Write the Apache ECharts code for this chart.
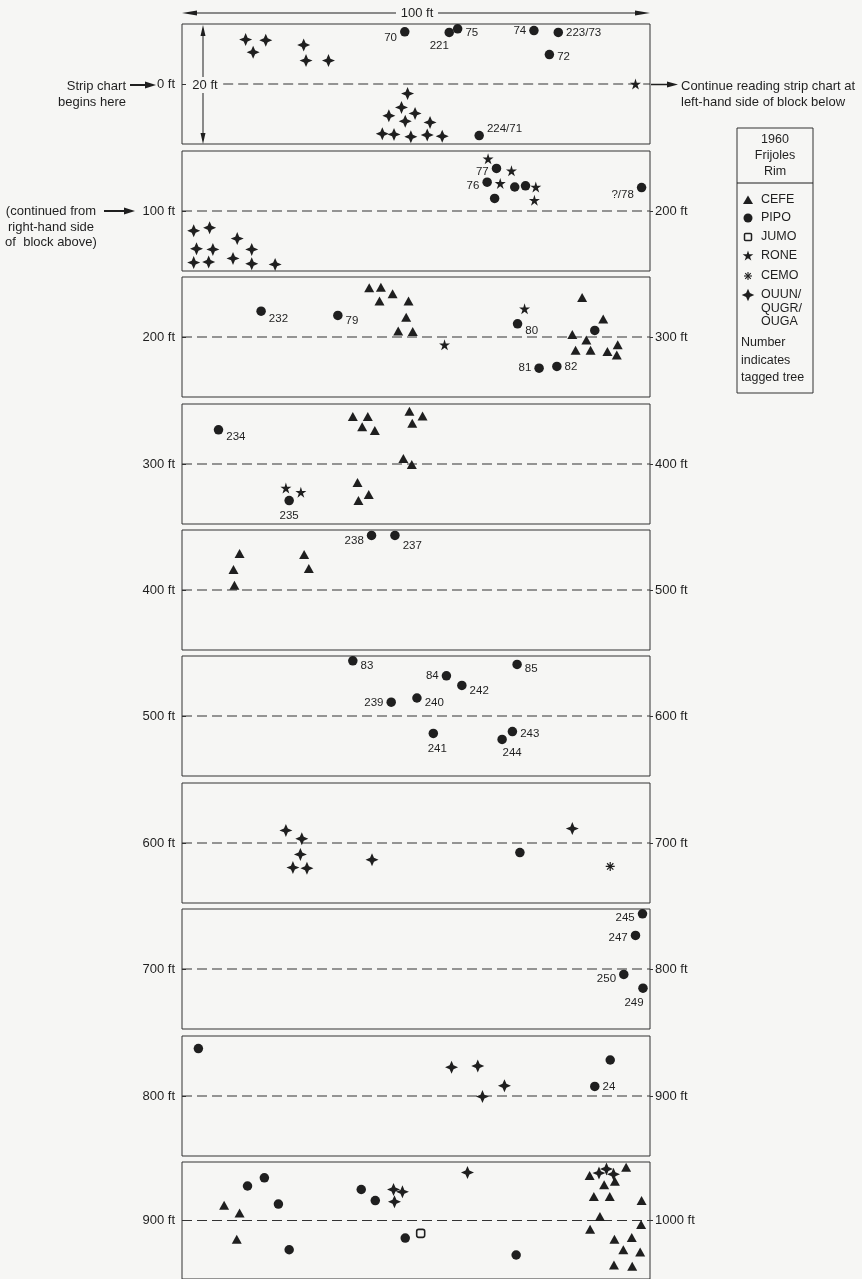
<!DOCTYPE html>
<html>
<head>
<meta charset="utf-8">
<title>1960 Frijoles Rim strip chart</title>
<script src="https://cdn.jsdelivr.net/npm/echarts@6/dist/echarts.min.js"></script>
<style>
  html, body { margin: 0; padding: 0; background: #f6f6f4; }
  #chart { width: 862px; height: 1279px; }
</style>
</head>
<body>
<div id="chart"></div>
<script>
// Strip chart: each block covers 100 ft along the strip (x) and a 20 ft wide
// belt (y = lateral offset from the centre line, -10..10 ft).
// Points are [distance along strip (ft), lateral offset (ft), tag number].

const blockStarts = [0, 100, 200, 300, 400, 500, 600, 700, 800, 900];
const leftTicks  = ['0 ft', '100 ft', '200 ft', '300 ft', '400 ft', '500 ft', '600 ft', '700 ft', '800 ft', '900 ft'];
const rightTicks = ['', '200 ft', '300 ft', '400 ft', '500 ft', '600 ft', '700 ft', '800 ft', '900 ft', '1000 ft'];

const speciesCodes = ['CEFE', 'PIPO', 'JUMO', 'RONE', 'CEMO', 'OUUN/QUGR/OUGA'];

const cefe = [
  [240.0, 8.2], [242.5, 8.3], [245.0, 7.2], [242.2, 6.0], [248.4, 6.0], [247.9, 3.3],
  [246.2, 1.0], [249.3, 0.9], [285.5, 6.6], [290.0, 3.0], [283.4, 0.4], [286.4, -0.5],
  [284.1, -2.2], [287.3, -2.2], [290.9, -2.4], [293.1, -1.3], [292.9, -3.0],
  [336.5, 7.9], [339.7, 7.9], [338.5, 6.2], [341.2, 5.6], [348.6, 8.8], [351.4, 8.0],
  [349.2, 6.8], [347.3, 0.9], [349.1, -0.1], [337.5, -3.1], [339.9, -5.1], [337.7, -6.1],
  [412.3, 6.1], [411.0, 3.4], [411.2, 0.8], [426.1, 5.9], [427.1, 3.6],
  [909.0, 2.6], [912.3, 1.3], [911.7, -3.2], [987.1, 7.7], [990.2, 6.1], [988.0, 4.1],
  [991.4, 4.1], [992.5, 6.7], [994.9, 9.1], [998.2, 3.4], [989.3, 0.7], [987.2, -1.5],
  [998.1, -0.7], [992.4, -3.2], [996.1, -2.9], [994.3, -5.0], [997.9, -5.4],
  [992.3, -7.6], [996.2, -7.8]
];

const pipo = [
  [47.6, 8.7, '70'], [57.1, 8.6, '221'], [58.9, 9.2, '75'], [75.2, 8.9, '74'],
  [80.4, 8.6, '223/73'], [78.5, 4.9, '72'], [63.5, -8.6, '224/71'],
  [167.2, 7.1, '77'], [165.2, 4.8, '76'], [171.1, 4.0], [173.4, 4.2], [166.8, 2.1],
  [198.2, 3.9, '?/78'],
  [216.9, 4.3, '232'], [233.3, 3.6, '79'], [271.7, 2.2, '80'], [276.3, -5.2, '81'],
  [280.1, -4.9, '82'], [288.2, 1.1],
  [307.8, 5.7, '234'], [322.9, -6.1, '235'],
  [440.5, 9.1, '238'], [445.5, 9.1, '237'],
  [536.5, 9.2, '83'], [556.5, 6.7, '84'], [571.6, 8.6, '85'], [559.8, 5.1, '242'],
  [544.7, 2.3, '239'], [550.2, 3.0, '240'], [553.7, -2.9, '241'], [570.6, -2.6, '243'],
  [568.4, -3.9, '244'],
  [672.2, -1.6],
  [798.4, 9.2, '245'], [796.9, 5.6, '247'], [794.4, -0.9, '250'], [798.5, -3.2, '249'],
  [803.5, 7.9], [891.5, 6.0], [888.2, 1.6, '24'],
  [914.0, 5.9], [917.6, 7.3], [920.6, 2.8], [922.9, -5.0], [938.3, 5.3], [941.3, 3.4],
  [947.7, -3.0], [971.4, -5.9]
];

const jumo = [[951.0, -2.2]];

const rone = [
  [96.9, 0.0],
  [165.4, 8.7], [170.4, 6.7], [168.0, 4.6], [175.6, 4.0], [175.3, 1.8],
  [273.2, 4.7], [256.1, -1.3],
  [322.2, -4.0], [325.4, -4.7]
];

const cemo = [[691.5, -3.9]];

const oak = [
  [13.6, 7.4], [17.9, 7.3], [15.2, 5.3], [26.0, 6.5], [26.5, 3.9], [31.3, 3.9],
  [48.2, -1.6], [46.9, -3.9], [44.2, -5.3], [47.7, -6.2], [49.8, -4.9], [53.0, -6.4],
  [42.8, -8.3], [45.3, -8.4], [48.9, -8.8], [52.4, -8.5], [55.6, -8.7],
  [102.5, -3.3], [105.9, -2.8], [111.8, -4.6], [103.1, -6.3], [106.6, -6.4], [114.9, -6.4],
  [102.5, -8.6], [105.7, -8.5], [110.9, -7.9], [114.9, -8.8], [119.9, -8.9],
  [622.2, 2.1], [625.6, 0.7], [625.3, -1.9], [623.7, -4.1], [626.7, -4.2], [640.6, -2.8],
  [683.4, 2.4],
  [857.6, 4.8], [863.2, 5.0], [868.9, 1.7], [864.2, -0.1],
  [961.0, 8.2], [945.2, 5.3], [947.1, 4.9], [945.4, 3.2], [989.1, 8.1], [990.7, 8.8],
  [992.2, 7.9]
];

// ---- presentation ----
const INK = '#1f1f1f';
const BG = '#f6f6f4';
const FONT = '"Liberation Sans", Arial, Helvetica, sans-serif';

// marker outlines (unit coordinates, centre at 0,0)
const STAR5_PTS = [[0,-100],[22,-31],[95,-31],[36,12],[59,81],[0,38],[-59,81],[-36,12],[-95,-31],[-22,-31]];
const STAR4_PTS = [[0,-100],[30,-30],[100,0],[30,30],[0,100],[-30,30],[-100,0],[-30,-30]];
const toPath = pts => 'path://M' + pts.map(p => p.join(',')).join('L') + 'Z';
const STAR5 = toPath(STAR5_PTS);
const STAR4 = toPath(STAR4_PTS);
const ASTER = 'path://M0,-10L0,10M-10,0L10,0M-7,-7L7,7M-7,7L7,-7';

const markerStyles = {
  'CEFE': { symbol: 'triangle', symbolSize: [10, 9], itemStyle: { color: INK, opacity: 1 } },
  'PIPO': { symbol: 'circle', symbolSize: 9.5, itemStyle: { color: INK, opacity: 1 } },
  'JUMO': { symbol: 'roundRect', symbolSize: 8, itemStyle: { color: BG, borderColor: INK, borderWidth: 1.6, opacity: 1 } },
  'RONE': { symbol: STAR5, symbolSize: 11, itemStyle: { color: INK, opacity: 1 } },
  'CEMO': { symbol: ASTER, symbolSize: 9, itemStyle: { color: 'none', borderColor: INK, borderWidth: 1.2, opacity: 1 } },
  'OUUN/QUGR/OUGA': { symbol: STAR4, symbolSize: 13, itemStyle: { color: INK, opacity: 1 } }
};
const speciesData = {
  'CEFE': cefe, 'PIPO': pipo, 'JUMO': jumo, 'RONE': rone, 'CEMO': cemo, 'OUUN/QUGR/OUGA': oak
};

// where each tree number sits relative to its marker: [position, dx, dy]
const tagPlacement = {
  '70': ['left', 0, 6], '221': ['bottom', -10, 0], '75': ['right', 0, 4], '74': ['left', 0, 0],
  '223/73': ['right', 0, 0], '72': ['right', 0, 2], '224/71': ['right', 0, -7],
  '77': ['left', 0, 3], '76': ['left', 0, 4], '?/78': ['left', 0, 7],
  '232': ['right', 0, 8], '79': ['right', 0, 5], '80': ['right', 0, 7], '81': ['left', 0, 0],
  '82': ['right', 0, 0], '234': ['right', 0, 7], '235': ['bottom', 0, 1],
  '238': ['left', 0, 5], '237': ['right', 0, 10],
  '83': ['right', 0, 5], '84': ['left', 0, 0], '85': ['right', 0, 4], '242': ['right', 0, 5],
  '239': ['left', 0, 1], '240': ['right', 0, 5], '241': ['bottom', 4, 2], '243': ['right', 0, 2],
  '244': ['bottom', 10, 0],
  '245': ['left', 0, 4], '247': ['left', 0, 2], '250': ['left', 0, 4], '249': ['bottom', -9, 1],
  '24': ['right', 0, 0]
};

const GRID_LEFT = 182, GRID_W = 468, GRID_H = 120, FIRST_TOP = 24.4, STEP = 126.4;

const grids = [], xAxes = [], yAxes = [], series = [];
blockStarts.forEach((start, k) => {
  grids.push({
    left: GRID_LEFT, top: Math.round(FIRST_TOP + k * STEP), width: GRID_W, height: GRID_H,
    show: true, borderColor: '#333', borderWidth: 1, backgroundColor: 'transparent'
  });
  xAxes.push({ gridIndex: k, type: 'value', min: 0, max: 100, show: false });
  const labelFont = { color: INK, fontFamily: FONT, fontSize: 13 };
  yAxes.push({
    gridIndex: k, type: 'value', min: -10, max: 10, interval: 10, position: 'left',
    axisLine: { show: false }, splitLine: { show: false },
    axisTick: { show: true, inside: true, length: 4, customValues: [0], lineStyle: { color: '#333' } },
    axisLabel: Object.assign({ show: true, margin: 7, customValues: [0],
      formatter: v => (v === 0 ? leftTicks[k] : '') }, labelFont)
  });
  const hasRight = !!rightTicks[k];
  yAxes.push({
    gridIndex: k, type: 'value', min: -10, max: 10, interval: 10, position: 'right',
    axisLine: { show: false }, splitLine: { show: false },
    axisTick: { show: hasRight, inside: false, length: 3, customValues: [0], lineStyle: { color: '#333' } },
    axisLabel: Object.assign({ show: hasRight, margin: 5, customValues: [0],
      formatter: v => (v === 0 ? rightTicks[k] : '') }, labelFont)
  });

  // dashed centre line of the belt (block 1 leaves room for the 20 ft dimension)
  const lineStart = k === 0 ? 8.8 : 0;
  series.push({
    type: 'line', xAxisIndex: k, yAxisIndex: 2 * k, silent: true, symbol: 'none', z: 1,
    data: [[lineStart, 0], [100, 0]],
    lineStyle: { color: '#333', width: 1, type: [10, 5] }
  });

  speciesCodes.forEach(code => {
    const pts = speciesData[code].filter(p => Math.min(9, Math.floor(p[0] / 100)) === k);
    if (!pts.length) return;
    const data = pts.map(p => {
      const item = { value: [p[0] - start, p[1]] };
      if (p[2]) {
        const pl = tagPlacement[p[2]] || ['right', 0, 0];
        item.label = {
          show: true, formatter: p[2], position: pl[0], offset: [pl[1], pl[2]], distance: 3,
          color: INK, fontFamily: FONT, fontSize: 11.5
        };
      }
      return item;
    });
    series.push(Object.assign({
      name: code, type: 'scatter', xAxisIndex: k, yAxisIndex: 2 * k, z: 3, data,
      emphasis: { disabled: true }
    }, markerStyles[code]));
  });
});

// ---- annotations & key ----
const txt = (text, x, y, align, size) => ({
  type: 'text', x, y, silent: true,
  style: { text, fill: INK, font: (size || 13) + 'px ' + FONT, textAlign: align || 'left', textVerticalAlign: 'middle' }
});
const seg = (x1, y1, x2, y2, w) => ({
  type: 'line', silent: true, shape: { x1, y1, x2, y2 }, style: { stroke: INK, lineWidth: w || 1 }
});
const head = pts => ({ type: 'polygon', silent: true, shape: { points: pts }, style: { fill: INK } });
const shapeAt = (pts, cx, cy, r) => head(pts.map(p => [cx + p[0] * r / 100, cy + p[1] * r / 100]));

const graphics = [
  // 100 ft dimension across the top
  seg(188, 13, 396, 13), seg(438, 13, 644, 13),
  head([[182, 13], [197, 10.5], [197, 15.5]]), head([[650, 13], [635, 10.5], [635, 15.5]]),
  txt('100 ft', 417, 13, 'center'),
  // 20 ft dimension inside the first block
  seg(203, 30, 203, 77), seg(203, 93, 203, 139),
  head([[203, 25], [200.5, 36], [205.5, 36]]), head([[203, 144], [200.5, 133], [205.5, 133]]),
  txt('20 ft', 205, 85, 'center'),
  // start of the strip
  txt('Strip chart', 126, 86, 'right'), txt('begins here', 126, 102, 'right'),
  seg(130, 85, 148, 85, 2), head([[156, 85], [145, 81.5], [145, 88.5]]),
  // continuation note
  seg(651, 84.5, 668, 84.5, 1.5), head([[678, 84.5], [667, 81.5], [667, 87.5]]),
  txt('Continue reading strip chart at', 681, 86, 'left'),
  txt('left-hand side of block below', 681, 102, 'left'),
  txt('(continued from', 51, 211, 'center'), txt('right-hand side', 51, 227, 'center'),
  txt('of  block above)', 51, 242, 'center'),
  seg(104, 211, 126, 211, 2), head([[135, 211], [124, 207.5], [124, 214.5]]),
  // key box
  { type: 'rect', silent: true, shape: { x: 737, y: 128, width: 76, height: 265 },
    style: { fill: 'none', stroke: '#333', lineWidth: 1 } },
  seg(737, 183, 813, 183),
  txt('1960', 775, 140, 'center', 12.5), txt('Frijoles', 775, 156, 'center', 12.5),
  txt('Rim', 775, 172, 'center', 12.5),
  head([[748, 195.5], [743, 204], [753, 204]]), txt('CEFE', 761, 200, 'left', 12.5),
  { type: 'circle', silent: true, shape: { cx: 748, cy: 218, r: 4.5 }, style: { fill: INK } },
  txt('PIPO', 761, 218, 'left', 12.5),
  { type: 'rect', silent: true, shape: { x: 744.5, y: 233.5, width: 7, height: 7, r: 1 },
    style: { fill: BG, stroke: INK, lineWidth: 1.5 } },
  txt('JUMO', 761, 237, 'left', 12.5),
  shapeAt(STAR5_PTS, 748, 256, 5.6),
  txt('RONE', 761, 256, 'left', 12.5),
  seg(748, 272, 748, 280, 1.1), seg(744, 276, 752, 276, 1.1),
  seg(745.2, 273.2, 750.8, 278.8, 1.1), seg(745.2, 278.8, 750.8, 273.2, 1.1),
  txt('CEMO', 761, 276, 'left', 12.5),
  shapeAt(STAR4_PTS, 748, 295, 6.3),
  txt('OUUN/', 761, 295, 'left', 12.5), txt('QUGR/', 761, 309, 'left', 12.5),
  txt('OUGA', 761, 322, 'left', 12.5),
  txt('Number', 741, 343, 'left', 12.5), txt('indicates', 741, 361, 'left', 12.5),
  txt('tagged tree', 741, 378, 'left', 12.5)
];

const chart = echarts.init(document.getElementById('chart'), null, { renderer: 'canvas' });
chart.setOption({
  backgroundColor: BG,
  animation: false,
  textStyle: { fontFamily: FONT },
  grid: grids,
  xAxis: xAxes,
  yAxis: yAxes,
  series: series,
  graphic: graphics
});
</script>
</body>
</html>
